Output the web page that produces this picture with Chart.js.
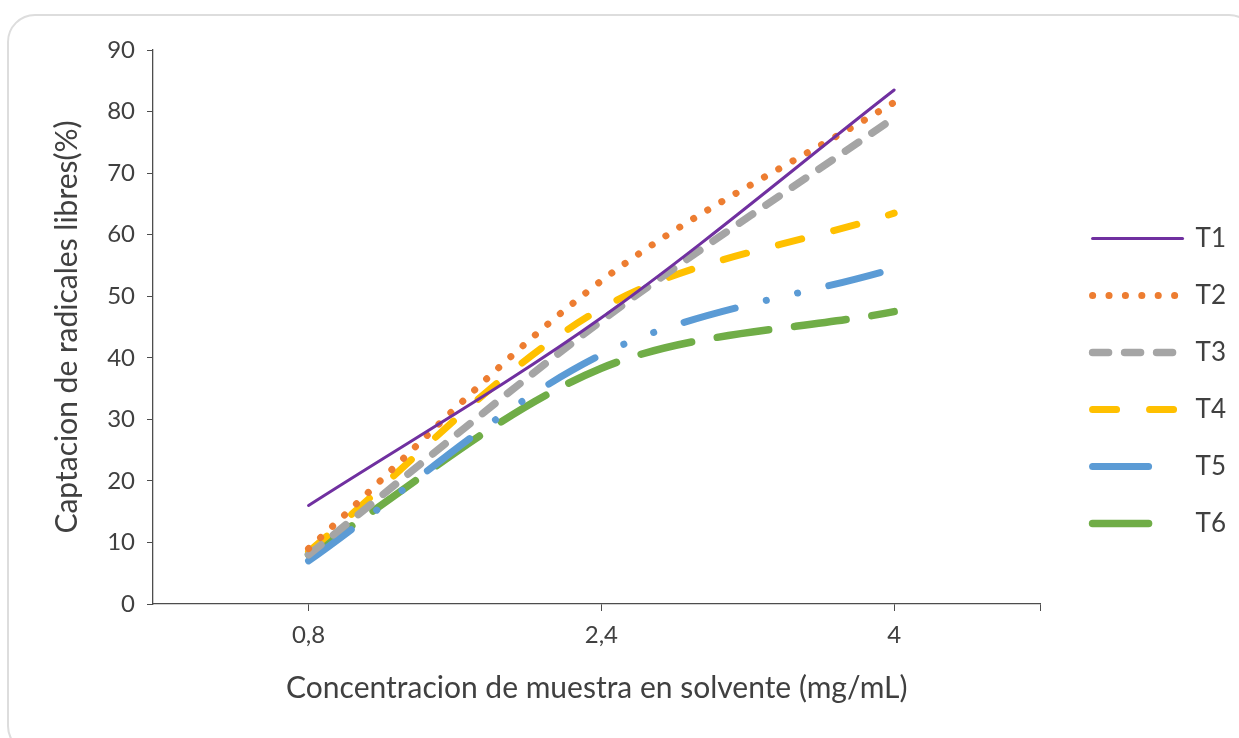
<!DOCTYPE html>
<html>
<head>
<meta charset="utf-8">
<script src="https://cdn.jsdelivr.net/npm/chart.js@4/dist/chart.umd.min.js"></script>
<style>
  body { margin: 0; background: #fff; overflow: hidden; }
  #wrap { position: relative; width: 1239px; height: 738px; }
  #frame { position: absolute; left: 7px; top: 14px; width: 1250px; height: 740px;
           border: 2px solid #dddddd; border-radius: 28px; box-sizing: border-box; }
  #lineChart { position: absolute; left: 0; top: 0; }
</style>
</head>
<body>
<div id="wrap">
  <div id="frame"></div>
  <canvas id="lineChart" width="1239" height="738"></canvas>
</div>
<script>
// datos
const concentraciones = [0.8, 2.4, 4];
const t1 = [16, 46.5, 83.5];
const t2 = [9, 52.5, 81.5];
const t3 = [8, 46, 79];
const t4 = [8.5, 48, 63.5];
const t5 = [7, 40.5, 54.5];
const t6 = [8, 38.3, 47.5];
const yTicks = [0, 10, 20, 30, 40, 50, 60, 70, 80, 90];

const font = 'Lato, "Open Sans", sans-serif';
const axisColor = '#4d4d4d';
const textColor = '#404040';

function toPoints(vals) {
  return vals.map((v, i) => ({ x: concentraciones[i], y: v }));
}

function serie(label, vals, color, width, dash, legendDash) {
  return {
    label: label,
    data: toPoints(vals),
    borderColor: color,
    backgroundColor: color,
    borderWidth: width,
    borderDash: dash,
    legendDash: legendDash || dash,
    borderCapStyle: 'round',
    pointRadius: 0,
    pointHoverRadius: 0,
    tension: 0.33,
    fill: false,
  };
}

// mover la leyenda un poco (Excel la deja más separada del área)
const legendShift = {
  id: 'legendShift',
  afterLayout(chart) {
    const lg = chart.legend;
    lg.left += 21; lg.right += 21;
    lg.top -= 13; lg.bottom -= 13;
  }
};

let lineCtx = document.getElementById("lineChart");
let lineConfig = {
  type: 'line',
  data: {
    datasets: [
      serie('T1', t1, '#7030A0', 3, []),
      serie('T2', t2, '#ED7D31', 7, [0.1, 16.3]),
      serie('T3', t3, '#A5A5A5', 7.5, [16, 16]),
      serie('T4', t4, '#FFC000', 7, [24, 33]),
      serie('T5', t5, '#5B9BD5', 7, [53, 32, 0.1, 32, 0.1, 32], [56, 100]),
      serie('T6', t6, '#70AD47', 7.5, [52, 26], [56, 100]),
    ],
  },
  plugins: [legendShift],
  options: {
    responsive: false,
    animation: false,
    layout: { padding: { top: 50, left: 0, right: 24, bottom: 0 } },
    plugins: {
      tooltip: { enabled: false },
      legend: {
        position: 'right',
        labels: {
          usePointStyle: true,
          pointStyle: 'line',
          pointStyleWidth: 90,
          padding: 31,
          color: textColor,
          font: { family: font, size: 26 },
          generateLabels: (chart) => chart.data.datasets.map((ds, i) => ({
            text: ds.label,
            strokeStyle: ds.borderColor,
            fillStyle: ds.borderColor,
            lineWidth: ds.borderWidth,
            lineDash: ds.legendDash,
            lineCap: 'round',
            pointStyle: 'line',
            fontColor: textColor,
            hidden: false,
            datasetIndex: i,
          })),
        },
      },
    },
    scales: {
      x: {
        type: 'linear',
        min: -0.05,
        max: 4.8,
        afterBuildTicks: (axis) => {
          axis.ticks = [0.8, 2.4, 4, 4.8].map(v => ({ value: v }));
        },
        afterFit: (axis) => { axis.height = 134; },
        ticks: {
          color: textColor,
          font: { family: font, size: 24 },
          padding: 10,
          maxRotation: 0,
          callback: (v) => v === 4.8 ? '' : String(v).replace('.', ','),
        },
        grid: { drawOnChartArea: false, drawTicks: true, tickLength: 7, color: axisColor },
        border: { color: axisColor, width: 1.3 },
        title: {
          display: true,
          text: 'Concentracion de muestra en solvente (mg/mL)',
          color: textColor,
          font: { family: font, size: 30 },
          padding: { top: 0, bottom: 32 },
        },
      },
      y: {
        min: 0,
        max: 90,
        afterBuildTicks: (axis) => {
          axis.ticks = yTicks.map(v => ({ value: v }));
        },
        afterFit: (axis) => { axis.width = 153; },
        ticks: {
          color: textColor,
          font: { family: font, size: 24 },
          padding: 12,
        },
        grid: { drawOnChartArea: false, drawTicks: true, tickLength: 6, color: axisColor },
        border: { color: axisColor, width: 1.3 },
        title: {
          display: true,
          text: 'Captacion de radicales libres(%)',
          color: textColor,
          font: { family: font, size: 30 },
          padding: { top: 49, bottom: 0 },
        },
      },
    },
  },
};
let lineChart = new Chart(lineCtx, lineConfig);
</script>
</body>
</html>
